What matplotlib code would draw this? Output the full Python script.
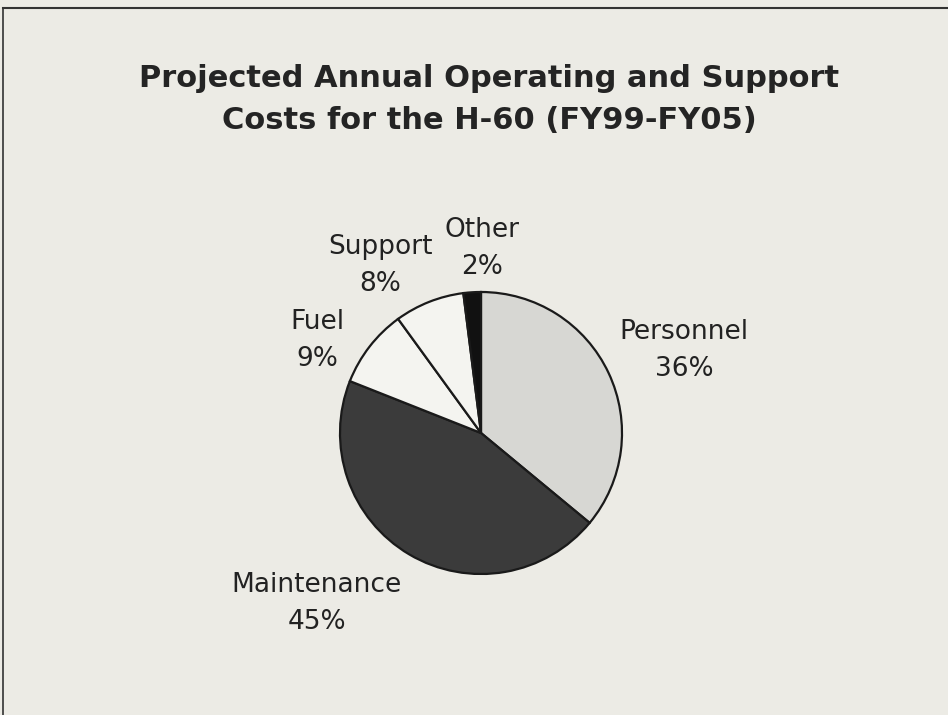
import matplotlib.pyplot as plt
from matplotlib.lines import Line2D

categories = ['Personnel', 'Maintenance', 'Fuel', 'Support', 'Other']
shares = [36, 45, 9, 8, 2]
colors = ['#d7d7d3', '#3b3b3b', '#f4f4f0', '#f4f4f0', '#111111']

plt.rcParams['font.family'] = ['DejaVu Sans']

W, H = 948, 715
cx, cy, R = 481, 433, 141  # pie centre and radius in pixels

fig = plt.figure(figsize=(W / 100, H / 100), dpi=100)
fig.patch.set_facecolor('#ecebe5')
ax = fig.add_axes([0, 0, 1, 1])
ax.set_facecolor('#ecebe5')
ax.axis('off')

ax.pie(shares, colors=colors, startangle=90, counterclock=False, radius=1,
       wedgeprops=dict(edgecolor='#1a1a1a', linewidth=1.6))
ax.set_aspect('auto')
ax.set_xlim(-cx / R, (W - cx) / R)
ax.set_ylim(-(H - cy) / R, cy / R)

# label anchors: centre x and first-line baseline y, in pixels from top-left
label_pos = [(684, 339), (317, 592), (317, 329), (380, 254), (482, 237)]
for name, val, (px, py) in zip(categories, shares, label_pos):
    fig.text(px / W, 1 - py / H, name, ha='center', va='baseline',
             fontsize=19, color='#222222')
    fig.text(px / W, 1 - (py + 37) / H, f'{val}%', ha='center', va='baseline',
             fontsize=19, color='#222222')

title = ['Projected Annual Operating and Support', 'Costs for the H-60 (FY99-FY05)']
for i, line in enumerate(title):
    fig.text(489 / W, 1 - (87 + 42 * i) / H, line, ha='center', va='baseline',
             fontsize=22, fontweight='bold', color='#242424')

# scanned page border
fig.add_artist(Line2D([3 / W, 1], [1 - 8 / H, 1 - 8 / H], color='#333333', lw=1.5))
fig.add_artist(Line2D([3 / W, 3 / W], [0, 1 - 8 / H], color='#333333', lw=1.2))

fig.savefig('out.png', dpi=100, facecolor=fig.get_facecolor())
